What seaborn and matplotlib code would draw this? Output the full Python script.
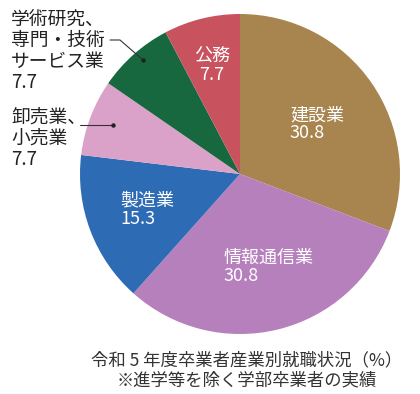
import matplotlib
matplotlib.use('Agg')
import matplotlib.pyplot as plt
import seaborn as sns

# data
sectors = ['建設業', '情報通信業', '製造業', '卸売業、小売業', '学術研究、専門・技術サービス業', '公務']
shares = [30.8, 30.8, 15.3, 7.7, 7.7, 7.7]
slice_colors = ['#a8844e', '#b680bd', '#2e6bb5', '#dba2c9', '#17683e', '#c8525e']
caption = '令和 5 年度卒業者産業別就職状況（%）\n※進学等を除く学部卒業者の実績'

sns.set_theme(style='white')
plt.rcParams['font.family'] = ['Noto Sans CJK JP', 'DejaVu Sans']

fig = plt.figure(figsize=(4.2, 3.94), dpi=100)
ax = fig.add_axes([0, 0, 1, 1])

palette = sns.color_palette(slice_colors)
ax.pie(shares, colors=palette, startangle=90, counterclock=False,
       radius=1.0, wedgeprops=dict(linewidth=0))

# pixel frame: centre (240,174), radius 160px
ax.set_xlim(-1.5, 1.125)
ax.set_ylim(-1.375, 1.0875)
ax.set_aspect('equal')
ax.axis('off')

def lbl(i):
    return f'{shares[i]}'

# labels inside the slices
inside = dict(color='white', fontsize=13, va='center', linespacing=1.0)
ax.text(0.3125, 0.31, f'{sectors[0]}\n{lbl(0)}', ha='left', **inside)
ax.text(-0.106, -0.58, f'{sectors[1]}\n{lbl(1)}', ha='left', **inside)
ax.text(-0.75, -0.222, f'{sectors[2]}\n{lbl(2)}', ha='left', **inside)
ax.text(-0.175, 0.675, f'{sectors[5]}\n{lbl(5)}', ha='center', **inside)

# labels outside with leader lines
outside = dict(color='#222222', fontsize=13.5, ha='left', va='top', linespacing=1.0)
ax.text(-1.43, 1.03, '学術研究、\n専門・技術\nサービス業\n' + lbl(4), **outside)
ax.plot([-0.8125, -0.75, -0.606], [0.8375, 0.8375, 0.7125], color='#333333', lw=0.8)
ax.plot([-0.606], [0.7125], 'o', color='#222222', ms=2.2)

ax.text(-1.43, 0.42, '卸売業、\n小売業\n' + lbl(3), **outside)
ax.plot([-1.0, -0.794], [0.306, 0.306], color='#333333', lw=0.8)
ax.plot([-0.794], [0.306], 'o', color='#222222', ms=2.2)

# caption
ax.text(0.044, -1.23, caption, color='#333333', fontsize=12.5, ha='center', va='center',
        linespacing=1.15)

fig.savefig('out.png', dpi=100)
